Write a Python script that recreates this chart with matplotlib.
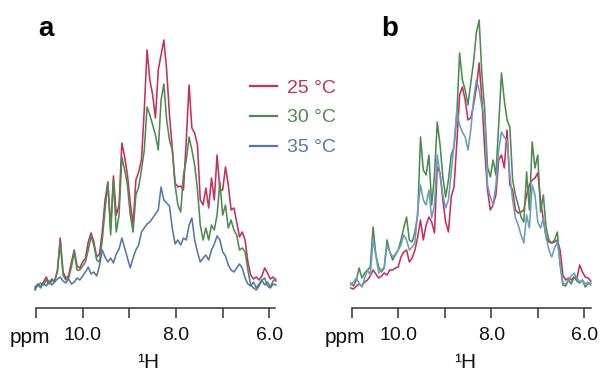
import matplotlib
matplotlib.use("Agg")
import matplotlib.pyplot as plt

plt.rcParams['font.family'] = ['Liberation Sans', 'DejaVu Sans']

# chemical shift grid (ppm), shared by both panels
ppm = [11.02, 10.96, 10.90, 10.84, 10.78, 10.72, 10.66, 10.60, 10.54, 10.48,
       10.42, 10.36, 10.30, 10.24, 10.18, 10.12, 10.06, 10.00, 9.94, 9.88,
       9.82, 9.76, 9.70, 9.64, 9.58, 9.52, 9.46, 9.40, 9.34, 9.28,
       9.22, 9.16, 9.10, 9.04, 8.98, 8.92, 8.86, 8.80, 8.74, 8.68,
       8.62, 8.56, 8.50, 8.44, 8.38, 8.32, 8.26, 8.20, 8.14, 8.08,
       8.02, 7.96, 7.90, 7.84, 7.78, 7.72, 7.66, 7.60, 7.54, 7.48,
       7.42, 7.36, 7.30, 7.24, 7.18, 7.12, 7.06, 7.00, 6.94, 6.88,
       6.82, 6.76, 6.70, 6.64, 6.58, 6.52, 6.46, 6.40, 6.34, 6.28,
       6.22, 6.16, 6.10, 6.04, 5.98, 5.92, 5.86]

# panel a intensities (arbitrary units)
red_a = [2, 8, 5, 10, 15, 9, 13, 10, 22, 54,
         20, 14, 16, 30, 42, 26, 24, 30, 34, 50,
         59, 50, 35, 38, 60, 92, 110, 64, 116, 77,
         87, 149, 135, 117, 89, 67, 112, 120, 132, 182,
         242, 212, 197, 174, 222, 237, 252, 222, 177, 144,
         109, 105, 106, 102, 152, 207, 164, 159, 147, 92,
         87, 104, 84, 114, 92, 137, 102, 102, 125, 107,
         82, 84, 70, 55, 60, 52, 30, 17, 13, 15,
         12, 16, 24, 19, 13, 15, 11]
green_a = [4, 6, 9, 7, 12, 8, 11, 12, 20, 50,
           17, 12, 14, 25, 40, 22, 22, 26, 30, 42,
           56, 47, 32, 30, 52, 82, 110, 57, 112, 60,
           77, 135, 122, 107, 77, 60, 97, 105, 122, 142,
           185, 177, 167, 157, 142, 192, 208, 172, 152, 142,
           107, 87, 80, 117, 132, 155, 142, 127, 102, 67,
           52, 64, 52, 67, 62, 77, 110, 77, 87, 64,
           72, 62, 57, 42, 44, 40, 22, 7, 4, 2,
           6, 12, 14, 6, 4, 8, 7]
blue_a = [5, 8, 4, 9, 6, 11, 7, 10, 13, 15,
          11, 9, 13, 8, 10, 14, 12, 16, 20, 25,
          18, 20, 16, 26, 42, 35, 30, 34, 29, 38,
          43, 54, 44, 34, 24, 34, 42, 47, 60, 64,
          68, 70, 74, 78, 82, 105, 92, 89, 86, 64,
          48, 52, 47, 54, 52, 67, 74, 52, 40, 30,
          34, 37, 32, 42, 48, 56, 52, 40, 36, 27,
          22, 20, 24, 28, 24, 14, 8, 6, 10, 4,
          8, 12, 7, 10, 5, 11, 13]

# panel b intensities
red_b = [4, 3, 6, 8, 6, 10, 12, 16, 22, 18,
         14, 16, 19, 17, 22, 22, 24, 25, 35, 40,
         42, 30, 34, 42, 55, 72, 52, 67, 75, 70,
         59, 125, 119, 92, 70, 60, 95, 105, 149, 197,
         205, 192, 172, 174, 187, 204, 229, 192, 142, 102,
         82, 87, 97, 132, 137, 124, 162, 107, 102, 82,
         79, 80, 82, 97, 107, 112, 114, 119, 92, 72,
         55, 50, 49, 50, 52, 42, 17, 12, 14, 12,
         15, 13, 27, 20, 15, 14, 11]
green_b = [9, 6, 12, 24, 14, 19, 22, 25, 65, 37,
           25, 20, 24, 52, 40, 32, 37, 42, 52, 64,
           75, 52, 50, 60, 77, 155, 122, 117, 137, 87,
           117, 170, 147, 115, 95, 112, 137, 145, 177, 239,
           212, 202, 187, 209, 230, 259, 272, 217, 182, 125,
           115, 132, 117, 167, 219, 192, 172, 165, 112, 97,
           87, 75, 70, 120, 82, 150, 124, 137, 80, 97,
           64, 52, 49, 52, 60, 27, 7, 6, 12, 8,
           15, 11, 9, 12, 5, 8, 9]
blue_b = [7, 10, 14, 9, 5, 14, 22, 17, 52, 37,
          19, 22, 25, 47, 40, 35, 38, 42, 47, 57,
          52, 42, 45, 49, 82, 107, 92, 87, 102, 74,
          87, 137, 117, 97, 84, 92, 120, 147, 182, 167,
          160, 155, 142, 162, 192, 212, 202, 185, 174, 107,
          95, 87, 107, 142, 160, 155, 152, 117, 92, 74,
          67, 57, 49, 77, 64, 107, 97, 70, 64, 74,
          54, 42, 35, 44, 50, 30, 9, 8, 12, 16,
          19, 14, 10, 12, 8, 10, 7]

labels = ['25 °C', '30 °C', '35 °C']
col_red = '#c4315b'
col_green = '#4f8a52'
col_blue_a = '#5479a6'
col_blue_b = '#6b9dbf'

fig = plt.figure(figsize=(6.02, 3.76), dpi=100)
ax1 = fig.add_axes([34.1 / 602, 68 / 376, 243.2 / 602, 298 / 376])
ax2 = fig.add_axes([349.8 / 602, 68 / 376, 242.4 / 602, 298 / 376])

lines = []
for ax, series, cols in [(ax1, [red_a, green_a, blue_a], [col_red, col_green, col_blue_a]),
                         (ax2, [red_b, green_b, blue_b], [col_red, col_green, col_blue_b])]:
    for s, c in zip(series, cols):
        ln, = ax.plot(ppm, s, color=c, lw=1.15)
        if ax is ax1:
            lines.append(ln)
    ax.set_xlim(11.04, 5.83)
    ax.set_ylim(-16, 282)
    for sp in ['left', 'top', 'right']:
        ax.spines[sp].set_visible(False)
    ax.spines['bottom'].set_color('#333333')
    ax.spines['bottom'].set_linewidth(1.1)
    ax.set_yticks([])
    ax.set_xticks([11, 10, 9, 8, 7, 6])
    ax.set_xticklabels(['', '10.0', '', '8.0', '', '6.0'])
    ax.tick_params(axis='x', direction='out', length=7, width=1.1, color='#333333',
                   labelsize=14, pad=7, labelcolor='#111111')
    ax.patch.set_visible(False)
ax1.spines['bottom'].set_bounds(11.0, 5.88)
ax2.spines['bottom'].set_bounds(11.0, 5.86)

# axis captions
fig.text(30 / 602, 1 - 343 / 376, 'ppm', ha='center', va='baseline', fontsize=15, color='#111111')
fig.text(345 / 602, 1 - 343 / 376, 'ppm', ha='center', va='baseline', fontsize=15, color='#111111')
fig.text(148 / 602, 1 - 368 / 376, '¹H', ha='center', va='baseline', fontsize=15, color='#111111')
fig.text(465 / 602, 1 - 368 / 376, '¹H', ha='center', va='baseline', fontsize=15, color='#111111')

# panel letters
fig.text(46 / 602, 1 - 36 / 376, 'a', ha='center', va='baseline', fontsize=20, fontweight='bold')
fig.text(390 / 602, 1 - 36 / 376, 'b', ha='center', va='baseline', fontsize=20, fontweight='bold')

leg = fig.legend(lines, labels, loc='upper left', bbox_to_anchor=(250 / 602, 1 - 79 / 376),
                 frameon=False, handlelength=1.4, handletextpad=0.5, labelspacing=0.63,
                 borderpad=0, borderaxespad=0, fontsize=14)
for txt, c in zip(leg.get_texts(), [col_red, col_green, col_blue_a]):
    txt.set_color(c)
for h in leg.legend_handles:
    h.set_linewidth(1.6)

fig.savefig('out.png', dpi=100)
